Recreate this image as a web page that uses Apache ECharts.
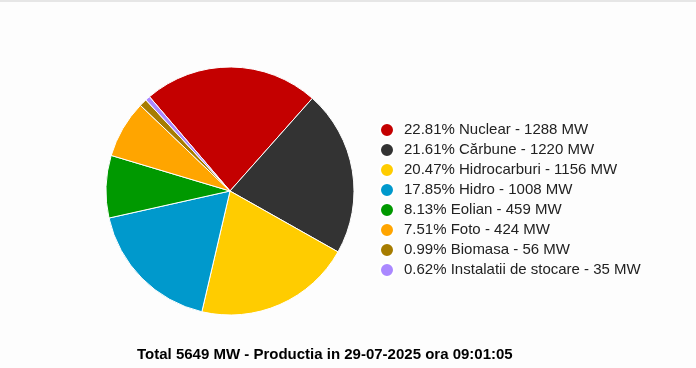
<!DOCTYPE html>
<html>
<head>
<meta charset="utf-8">
<script src="https://cdn.jsdelivr.net/npm/echarts@6/dist/echarts.min.js"></script>
<style>
  html, body { margin: 0; padding: 0; background: #fdfdfd; }
  #chart { width: 696px; height: 368px; border-top: 2px solid #e6e6e6; box-sizing: border-box; }
</style>
</head>
<body>
<div id="chart"></div>
<script>
// Chart data
var names = ['Nuclear', 'Cărbune', 'Hidrocarburi', 'Hidro', 'Eolian', 'Foto', 'Biomasa', 'Instalatii de stocare'];
var values = [1288, 1220, 1156, 1008, 459, 424, 56, 35];
var percents = ['22.81', '21.61', '20.47', '17.85', '8.13', '7.51', '0.99', '0.62'];
var colors = ['#c40000', '#333333', '#ffcc00', '#0099cc', '#009900', '#ffa500', '#a67c00', '#aa88ff'];
var totalText = 'Total 5649 MW - Productia in 29-07-2025 ora 09:01:05';

var myChart = echarts.init(document.getElementById('chart'));

var data = names.map(function(n, i) {
  return { name: n, value: values[i], itemStyle: { color: colors[i] } };
});

var chartOptions = {
  animation: false,
  textStyle: { fontFamily: 'Liberation Sans, Arial, sans-serif' },
  title: {
    text: totalText,
    left: 137,
    top: 345,
    padding: 0,
    textStyle: { fontSize: 15, fontWeight: 'bold', color: '#000' }
  },
  legend: {
    orient: 'vertical',
    left: 374,
    top: 115,
    icon: 'circle',
    itemWidth: 14,
    itemHeight: 14,
    itemGap: 4,
    selectedMode: false,
    textStyle: { fontSize: 15, color: '#222', padding: [0, 0, 0, 5] },
    formatter: function(name) {
      var i = names.indexOf(name);
      return percents[i] + '% ' + name + ' - ' + values[i] + ' MW';
    },
    data: names
  },
  series: [{
    type: 'pie',
    center: [230, 189],
    radius: [0, 124],
    startAngle: 130.5,
    clockwise: true,
    silent: true,
    label: { show: false },
    labelLine: { show: false },
    itemStyle: { borderColor: '#fff', borderWidth: 1 },
    data: data
  }]
};

myChart.setOption(chartOptions);
</script>
</body>
</html>
